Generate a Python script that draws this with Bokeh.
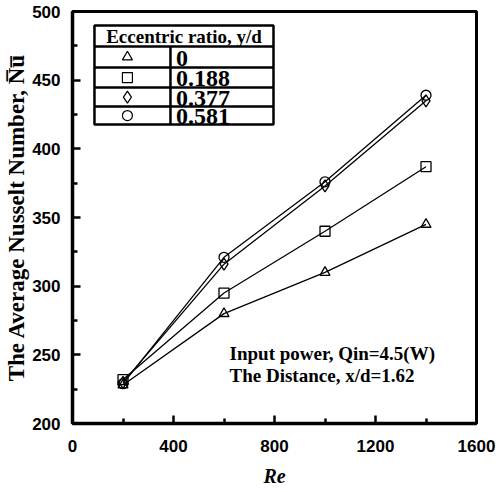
from bokeh.plotting import figure
from bokeh.models import Label, FixedTicker, Range1d
from bokeh.embed import file_html
from bokeh.resources import INLINE

re_vals = [200, 600, 1000, 1400]
nu_0 = [228, 280, 310, 345]
nu_0188 = [232, 295, 340, 387]
nu_0377 = [230, 316, 373, 435]
nu_0581 = [229, 321, 376, 439]
ratios = ["0", "0.188", "0.377", "0.581"]
markers = ["triangle", "square", "diamond", "circle"]
series = [nu_0, nu_0188, nu_0377, nu_0581]
x_ticks = [0, 400, 800, 1200, 1600]
y_ticks = [200, 250, 300, 350, 400, 450, 500]

p = figure(width=503, height=492, output_backend="svg", toolbar_location=None,
           x_range=Range1d(0, 1600), y_range=Range1d(200, 500),
           min_border_left=72, min_border_right=27, min_border_top=11, min_border_bottom=69)
p.grid.visible = False
p.outline_line_color = "black"
p.outline_line_width = 3
p.outline_line_alpha = 1
p.background_fill_color = "white"
p.border_fill_color = "white"

p.axis.axis_line_width = 3.5
p.axis.axis_line_color = "black"
p.axis.major_tick_in = 8
p.axis.major_tick_out = 0
p.axis.minor_tick_in = 5
p.axis.minor_tick_out = 0
p.axis.major_tick_line_width = 2.5
p.axis.minor_tick_line_width = 2.5
p.axis.major_tick_line_color = "black"
p.axis.minor_tick_line_color = "black"
p.axis.major_label_text_font = "Arial"
p.axis.major_label_text_font_style = "bold"
p.axis.major_label_text_font_size = "17px"
p.axis.major_label_text_color = "#000000"
p.axis.axis_label_text_color = "#000000"

p.xaxis.ticker = FixedTicker(ticks=x_ticks, minor_ticks=[200, 600, 1000, 1400])
p.yaxis.ticker = FixedTicker(ticks=y_ticks, minor_ticks=[225, 275, 325, 375, 425, 475])
p.xaxis.major_label_standoff = 16
p.yaxis.major_label_standoff = 12

p.xaxis.axis_label = "Re"
p.xaxis.axis_label_text_font = "Liberation Serif"
p.xaxis.axis_label_text_font_style = "bold italic"
p.xaxis.axis_label_text_font_size = "20px"
p.xaxis.axis_label_standoff = 10

p.yaxis.axis_label = "The Average Nusselt Number, N\u0305u\u0305"
p.yaxis.axis_label_text_font = "Liberation Serif"
p.yaxis.axis_label_text_font_style = "bold"
p.yaxis.axis_label_text_font_size = "23px"
p.yaxis.axis_label_standoff = 0

for ys, m in zip(series, markers):
    p.line(re_vals, ys, line_color="black", line_width=1.3)
    p.scatter(re_vals, ys, marker=m, size=10 if m != "diamond" else 12,
              fill_color="white", fill_alpha=0, line_color="black", line_width=1.3)

# legend table (data coords)
tl, tr, td = 87, 796, 388
row_edges = [489.8, 474.5, 459.2, 444.6, 430.8, 417.7]
p.quad(left=[tl], right=[tr], top=[row_edges[0]], bottom=[row_edges[-1]],
       fill_color="white", line_color="black", line_width=2.5)
for yv in row_edges[1:-1]:
    p.segment(x0=[tl], x1=[tr], y0=[yv], y1=[yv], line_color="black", line_width=2.5)
p.segment(x0=[td], x1=[td], y0=[row_edges[1]], y1=[row_edges[-1]], line_color="black", line_width=2.5)
p.add_layout(Label(x=(tl + tr) / 2, y=(row_edges[0] + row_edges[1]) / 2 - 0.5, text="Eccentric ratio, y/d",
                   text_font="Liberation Serif", text_font_style="bold", text_font_size="19px",
                   text_align="center", text_baseline="middle", text_color="black"))
for i, (r, m) in enumerate(zip(ratios, markers)):
    yc = (row_edges[i + 1] + row_edges[i + 2]) / 2
    p.scatter([(tl + td) / 2 - 20], [yc], marker=m, size=10 if m != "diamond" else 12,
              fill_color="white", line_color="black", line_width=1.2)
    p.add_layout(Label(x=410, y=yc - 1, text=r, text_font="Liberation Serif", text_font_style="bold",
                       text_font_size="24px", text_baseline="middle", text_color="black"))

p.add_layout(Label(x=622, y=251, text="Input power, Qin=4.5(W)", text_font="Liberation Serif",
                   text_font_style="bold", text_font_size="19px", text_baseline="middle", text_color="black"))
p.add_layout(Label(x=622, y=235, text="The Distance, x/d=1.62", text_font="Liberation Serif",
                   text_font_style="bold", text_font_size="19px", text_baseline="middle", text_color="black"))

open("out.html", "w").write(file_html(p, INLINE))
